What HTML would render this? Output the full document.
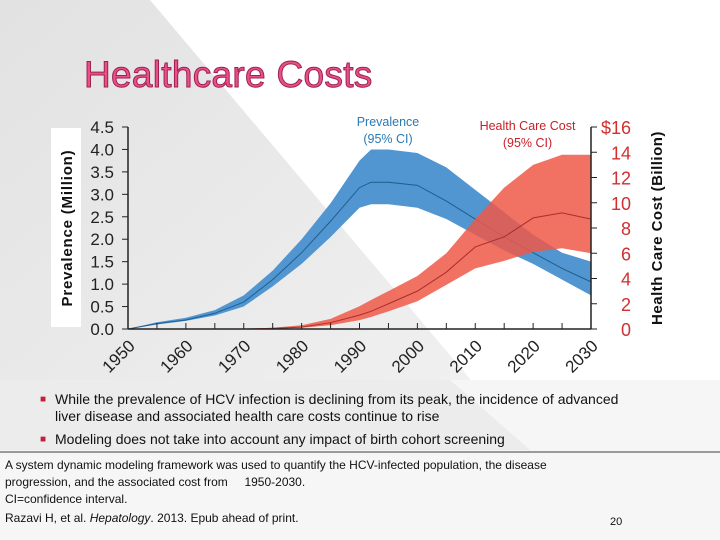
<!DOCTYPE html>
<html><head><meta charset="utf-8"><style>
body{margin:0;width:720px;height:540px;overflow:hidden;background:#fff;font-family:"Liberation Sans",sans-serif;}
#wrap{position:relative;width:720px;height:540px;}
svg{position:absolute;left:0;top:0;}
.t{position:absolute;font-family:"Liberation Sans",sans-serif;}
</style></head><body>
<div id="wrap">
<svg width="720" height="540">
<defs><linearGradient id="bg" x1="0" y1="0" x2="1" y2="1"><stop offset="0" stop-color="#e2e2e2"/><stop offset="1" stop-color="#f2f2f2"/></linearGradient></defs>
<polygon points="0,0 150,0 530,450 0,450" fill="url(#bg)"/>
<rect x="0" y="380" width="720" height="160" fill="#f6f6f6"/>
<polygon points="0,380 450,380 530,450 0,450" fill="#ececec"/>
<rect x="51" y="128" width="30" height="199" fill="#fff"/>
<g id="plot"></g>
<line x1="0" y1="452" x2="720" y2="452" stroke="#9a9a9a" stroke-width="2"/>
</svg>
<div class="t" style="left:84px;top:54px;font-size:37px;color:#e8508a;-webkit-text-stroke:1px #a0204f;letter-spacing:0.3px;">Healthcare Costs</div>
<div class="t" style="left:340px;top:114px;width:96px;text-align:center;font-size:12.5px;line-height:17px;color:#2a7ab5;">Prevalence<br>(95% CI)</div>
<div class="t" style="left:470px;top:118px;width:115px;text-align:center;font-size:12.5px;line-height:17px;color:#c8202a;">Health Care Cost<br>(95% CI)</div>
<div class="t" style="left:40px;top:391px;width:600px;font-size:14px;line-height:17px;color:#111;">
<div style="padding-left:15px;position:relative;"><span style="position:absolute;left:0;color:#c0203a;font-size:10px;">■</span>While the prevalence of HCV infection is declining from its peak, the incidence of advanced<br>liver disease and associated health care costs continue to rise</div>
<div style="padding-left:15px;position:relative;margin-top:6px;"><span style="position:absolute;left:0;color:#c0203a;font-size:10px;">■</span>Modeling does not take into account any impact of birth cohort screening</div>
</div>
<div class="t" style="left:5px;top:457px;width:590px;font-size:12px;line-height:17px;color:#111;">A system dynamic modeling framework was used to quantify the HCV-infected population, the disease progression, and the associated cost from &nbsp;&nbsp;&nbsp;&nbsp;1950-2030.<br>CI=confidence interval.</div>
<div class="t" style="left:5px;top:511px;font-size:12px;color:#111;">Razavi H, et al. <i>Hepatology</i>. 2013. Epub ahead of print.</div>
<div class="t" style="left:610px;top:516px;font-size:11px;color:#111;">20</div>
</div>
<script>
const years=[1950,1955,1960,1965,1970,1975,1980,1985,1990,1992,1995,2000,2005,2010,2015,2020,2025,2030];
const prevHi=[0,0.15,0.25,0.42,0.75,1.3,2.0,2.8,3.75,4.0,4.0,3.92,3.6,3.1,2.6,2.1,1.7,1.5];
const prevMid=[0,0.12,0.2,0.35,0.6,1.1,1.7,2.4,3.15,3.27,3.27,3.2,2.85,2.45,2.05,1.7,1.35,1.05];
const prevLo=[0,0.1,0.18,0.3,0.5,0.95,1.45,2.05,2.7,2.78,2.78,2.7,2.45,2.1,1.75,1.45,1.1,0.75];
const costHi=[0,0,0,0,0,0.1,0.3,0.8,1.8,2.3,3.0,4.2,6.0,8.7,11.2,13.0,13.8,13.8];
const costMid=[0,0,0,0,0,0.05,0.15,0.5,1.1,1.4,2.0,3.0,4.5,6.5,7.3,8.8,9.2,8.7];
const costLo=[0,0,0,0,0,0.02,0.1,0.3,0.7,0.95,1.4,2.2,3.5,4.8,5.4,6.1,6.4,6.0];
const leftTicks=["0.0","0.5","1.0","1.5","2.0","2.5","3.0","3.5","4.0","4.5"];
const rightTicks=["0","2","4","6","8","10","12","14","$16"];
const xTicks=[1950,1960,1970,1980,1990,2000,2010,2020,2030];
const X0=128,X1=591,Y0=329,Y1=127;
const x=v=>X0+(v-1950)/80*(X1-X0);
const yl=v=>Y0-v/4.5*(Y0-Y1);
const yr=v=>Y0-v/16*(Y0-Y1);
const NS="http://www.w3.org/2000/svg",g=document.getElementById('plot');
function mk(t,a){const e=document.createElementNS(NS,t);for(const k in a)e.setAttribute(k,a[k]);g.appendChild(e);return e;}
function band(hi,lo,f,fill,name,startIdx){let p=[];for(let i=startIdx;i<years.length;i++)p.push(x(years[i])+','+f(hi[i]));for(let i=years.length-1;i>=startIdx;i--)p.push(x(years[i])+','+f(lo[i]));
const e=mk('polygon',{points:p.join(' '),fill:fill});

}
function line(v,f,c,name,startIdx){let p=[];for(let i=startIdx;i<years.length;i++)p.push(x(years[i])+','+f(v[i]));
const e=mk('polyline',{points:p.join(' '),fill:'none',stroke:c,'stroke-width':1});

}
band(prevHi,prevLo,yl,'#5196d0','prevalence-band',0);
line(prevMid,yl,'#1f5d8f','prevalence-line',0);
band(costHi,costLo,yr,'rgba(238,88,72,0.85)','cost-band',4);
line(costMid,yr,'#a8302a','cost-line',4);
let a=mk('line',{x1:X0,y1:Y1,x2:X0,y2:Y0,stroke:'#222','stroke-width':1.5});

a=mk('line',{x1:X1,y1:Y1,x2:X1,y2:Y0,stroke:'#222','stroke-width':1.5});

a=mk('line',{x1:X0,y1:Y0,x2:X1,y2:Y0,stroke:'#222','stroke-width':1.5});

leftTicks.forEach((t,i)=>{const v=i*0.5;mk('line',{x1:X0-6,y1:yl(v),x2:X0,y2:yl(v),stroke:'#222'});
const e=mk('text',{x:X0-14,y:yl(v)+6,'text-anchor':'end','font-size':17,fill:'#222','font-family':'Liberation Sans'});e.textContent=t;

});
rightTicks.forEach((t,i)=>{const v=i*2;mk('line',{x1:X1,y1:yr(v),x2:X1+6,y2:yr(v),stroke:'#222'});
const e=mk('text',{x:X1+40,y:yr(v)+7,'text-anchor':'end','font-size':18,fill:'#d03030','font-family':'Liberation Sans'});e.textContent=t;

});
for(let yv=1950;yv<=2030;yv+=5){mk('line',{x1:x(yv),y1:Y0,x2:x(yv),y2:Y0-6,stroke:'#222'});}
xTicks.forEach(t=>{const e=mk('text',{x:x(t)+8,y:Y0+18,'text-anchor':'end','font-size':17,fill:'#222','font-family':'Liberation Sans',transform:`rotate(-45 ${x(t)+8} ${Y0+18})`});e.textContent=t;

});
let e=mk('text',{x:72,y:228,'text-anchor':'middle','font-size':15,'font-weight':'bold',fill:'#111','letter-spacing':'0.8',transform:'rotate(-90 72 228)','font-family':'Liberation Sans'});e.textContent='Prevalence (Million)';

e=mk('text',{x:662,y:228,'text-anchor':'middle','font-size':15,'font-weight':'bold',fill:'#111','letter-spacing':'0.5',transform:'rotate(-90 662 228)','font-family':'Liberation Sans'});e.textContent='Health Care Cost (Billion)';

</script>
</body></html>
